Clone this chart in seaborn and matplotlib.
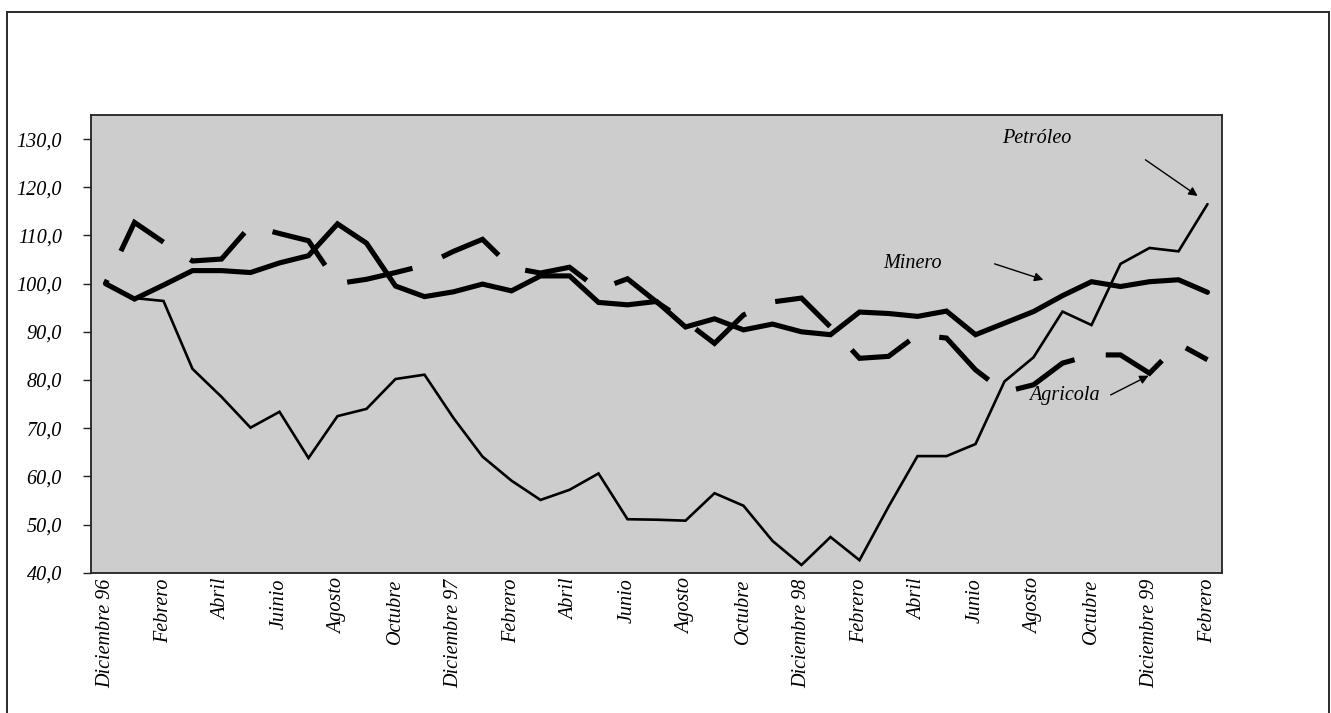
import matplotlib
matplotlib.use("Agg")
import matplotlib.pyplot as plt
import seaborn as sns
import pandas as pd
from matplotlib.patches import Rectangle

# Months from December 1996 to February 2000
meses = ["Diciembre 96", "Enero", "Febrero", "Marzo", "Abril", "Mayo", "Juinio",
         "Julio", "Agosto", "Septiembre", "Octubre", "Noviembre",
         "Diciembre 97", "Enero", "Febrero", "Marzo", "Abril", "Mayo", "Junio",
         "Julio", "Agosto", "Septiembre", "Octubre", "Noviembre",
         "Diciembre 98", "Enero", "Febrero", "Marzo", "Abril", "Mayo", "Junio",
         "Julio", "Agosto", "Septiembre", "Octubre", "Noviembre",
         "Diciembre 99", "Enero", "Febrero"]

# Price indices (Dec 1996 = 100)
petroleo = [100.0, 97.0, 96.4, 82.3, 76.5, 70.1, 73.4, 63.8, 72.5, 74.0, 80.2, 81.1,
            72.1, 64.1, 59.1, 55.1, 57.2, 60.6, 51.1, 51.0, 50.8, 56.5, 53.9, 46.6,
            41.6, 47.4, 42.6, 53.7, 64.2, 64.2, 66.7, 79.7, 84.7, 94.2, 91.4, 104.1,
            107.4, 106.7, 116.5]
minero = [100.0, 96.8, 99.7, 102.7, 102.7, 102.3, 104.3, 105.8, 112.4, 108.4, 99.5, 97.3,
          98.3, 99.9, 98.5, 101.6, 101.6, 96.1, 95.6, 96.3, 91.0, 92.7, 90.4, 91.6,
          90.0, 89.4, 94.1, 93.8, 93.2, 94.3, 89.4, 91.8, 94.2, 97.5, 100.4, 99.4,
          100.4, 100.8, 98.2]
agricola = [100.0, 112.7, 108.6, 104.7, 105.1, 112.0, 110.4, 108.9, 100.0, 100.9, 102.3, 103.8,
            106.7, 109.2, 103.3, 102.2, 103.4, 98.8, 101.0, 96.2, 92.2, 87.6, 93.5, 96.2,
            97.0, 91.0, 84.5, 84.9, 89.4, 88.7, 82.1, 77.5, 79.0, 83.5, 85.2, 85.2,
            81.4, 87.5, 84.2]

y_ticks = [40, 50, 60, 70, 80, 90, 100, 110, 120, 130]

sns.set_theme(style="white")
plt.rcParams["font.family"] = ["Liberation Serif", "DejaVu Serif"]
plt.rcParams["font.style"] = "italic"

W, H = 1331, 713
fig = plt.figure(figsize=(W / 100, H / 100), dpi=100)
fig.patch.set_facecolor("white")

# outer chart frame
fig.add_artist(Rectangle((7 / W, -0.1), (1329 - 7) / W, 1 - 12 / H + 0.1,
                         transform=fig.transFigure, fill=False,
                         lw=1.4, ec="#2a2a2a"))

ax = fig.add_axes([91 / W, 1 - 572.7 / H, (1222 - 91) / W, (572.7 - 115) / H])
ax.set_facecolor("#cdcdcd")

idx = list(range(len(meses)))
df = pd.DataFrame({"mes": idx, "Petróleo": petroleo,
                   "Minero": minero, "Agricola": agricola})

sns.lineplot(data=df, x="mes", y="Petróleo", ax=ax, color="black",
             lw=1.9, solid_joinstyle="miter")
sns.lineplot(data=df, x="mes", y="Minero", ax=ax, color="black",
             lw=3.7, solid_joinstyle="miter")
sns.lineplot(data=df, x="mes", y="Agricola", ax=ax, color="black",
             lw=3.7, linestyle=(12.2, (13, 6.2)), dash_capstyle="butt",
             dash_joinstyle="miter")

ax.set_xlim(-0.5, len(meses) - 0.5)
ax.set_ylim(40, 135)
ax.set_xlabel("")
ax.set_ylabel("")

ax.set_yticks(y_ticks)
ax.set_yticklabels([f"{v:.1f}".replace(".", ",") for v in y_ticks])
ax.set_xticks(idx[::2])
ax.set_xticklabels(meses[::2], rotation=90)

ax.tick_params(axis="y", direction="out", length=6, width=1.0, color="#222222",
               pad=15, labelsize=14.5, left=True)
ax.tick_params(axis="x", length=0, pad=4, labelsize=14.5)
for lab in ax.get_xticklabels() + ax.get_yticklabels():
    lab.set_fontstyle("italic")
    lab.set_color("black")

for sp in ax.spines.values():
    sp.set_visible(True)
    sp.set_color("#222222")
    sp.set_linewidth(1.3)

arrow = dict(arrowstyle="-|>", color="black", lw=1.0, mutation_scale=13,
             shrinkA=0, shrinkB=0)
txt = dict(fontsize=14.5, fontstyle="italic", ha="center", va="center", color="black")

ax.text(32.13, 130.1, "Petróleo", **txt)
ax.annotate("", xy=(37.66, 118.2), xytext=(35.86, 125.7), arrowprops=arrow)

ax.text(27.84, 104.1, "Minero", **txt)
ax.annotate("", xy=(32.34, 100.8), xytext=(30.66, 104.1), arrowprops=arrow)

ax.text(33.07, 76.7, "Agricola", **txt)
ax.annotate("", xy=(35.97, 80.9), xytext=(34.66, 76.9), arrowprops=arrow)

fig.savefig("out.png", dpi=100, facecolor="white")
